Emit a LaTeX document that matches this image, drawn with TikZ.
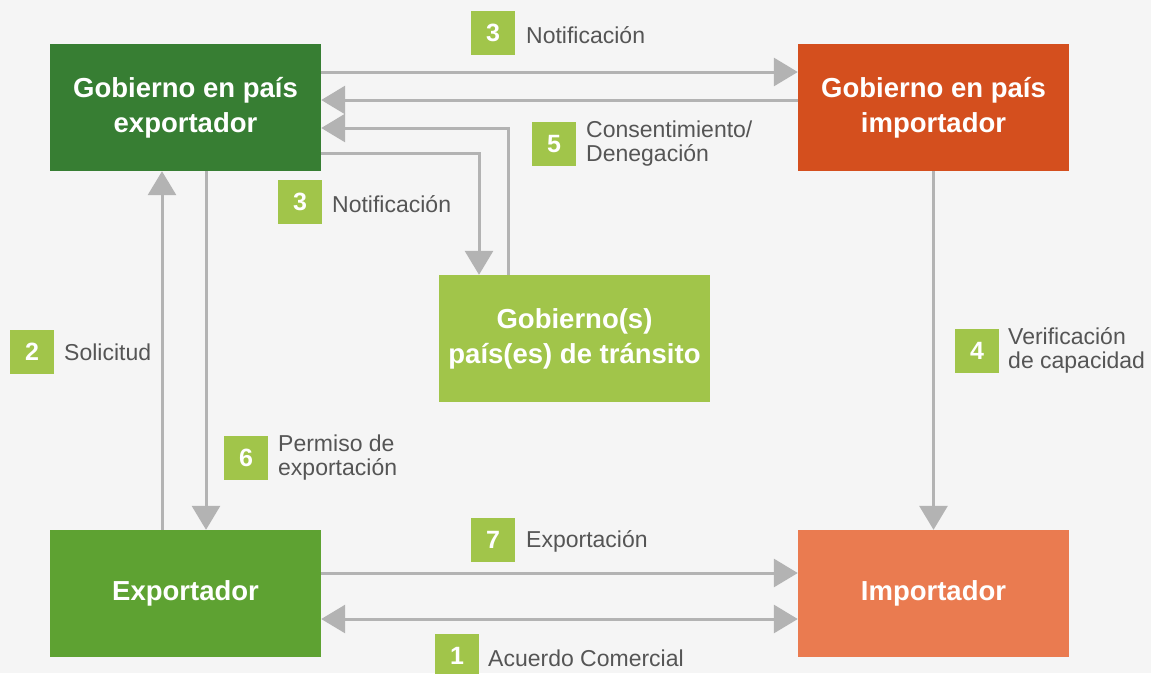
\documentclass[tikz,border=0pt]{standalone}
\usepackage{fontspec}
\setmainfont{Liberation Sans}
\usetikzlibrary{arrows.meta}
\definecolor{bg}{HTML}{F5F5F5}
\definecolor{darkgreen}{HTML}{377E33}
\definecolor{midgreen}{HTML}{5EA232}
\definecolor{lightgreen}{HTML}{A1C54A}
\definecolor{darkorange}{HTML}{D44F1E}
\definecolor{lightorange}{HTML}{EA7B50}
\definecolor{linegray}{HTML}{B3B3B3}
\definecolor{labelgray}{HTML}{555555}
\begin{document}
\begin{tikzpicture}[x=1pt,y=-1pt,
  box/.style={minimum width=271pt,minimum height=127pt,inner sep=0pt,text=white,
    align=center,font=\fontsize{27.5}{35}\selectfont\bfseries},
  badge/.style={fill=lightgreen,minimum size=44pt,inner sep=0pt,text=white,
    font=\fontsize{25}{25}\selectfont\bfseries},
  lbl/.style={anchor=west,inner sep=0pt,text=labelgray,align=left,
    font=\fontsize{23}{24}\selectfont},
  arr/.style={draw=linegray,line width=3pt,-{Triangle[length=24pt,width=28pt]}},
  biarr/.style={draw=linegray,line width=3pt,{Triangle[length=24pt,width=28pt]}-{Triangle[length=24pt,width=28pt]}}
]
\fill[bg] (0,0) rectangle (1151,673);
\useasboundingbox (0,0) rectangle (1151,673);

\node[box,fill=darkgreen] (GE) at (185.5,107.5) {Gobierno en país\\exportador};
\node[box,fill=darkorange] (GI) at (933.5,107.5) {Gobierno en país\\importador};
\node[box,fill=lightgreen] (TR) at (574.5,338.5) {Gobierno(s)\\país(es) de tránsito};
\node[box,fill=midgreen] (EX) at (185.5,593.5) {Exportador};
\node[box,fill=lightorange] (IM) at (933.5,593.5) {Importador};

% connectors
\draw[arr] (GE.east |- 0,72) -- (GI.west |- 0,72);
\draw[arr] (GI.west |- 0,100) -- (GE.east |- 0,100);
\draw[arr] (TR.north -| 508,0) |- (GE.east |- 0,128);
\draw[arr] (GE.east |- 0,153) -| (TR.north -| 479,0);
\draw[arr] (EX.north -| 162,0) -- (GE.south -| 162,0);
\draw[arr] (GE.south -| 206,0) -- (EX.north -| 206,0);
\draw[arr] (GI.south) -- (IM.north);
\draw[arr] (EX.east |- 0,573) -- (IM.west |- 0,573);
\draw[biarr] (EX.east |- 0,619) -- (IM.west |- 0,619);

% badges and labels
\node[badge] (b3a) at (493,33) {3};
\node[lbl] (l3a) at (526,35) {Notificación};
\node[badge] (b3b) at (300,201.5) {3};
\node[lbl] (l3b) at (332,204) {Notificación};
\node[badge] (b5) at (554,144) {5};
\node[lbl] (l5) at (586,144) {Consentimiento/\\Denegación};
\node[badge] (b2) at (32,351.5) {2};
\node[lbl] (l2) at (64,352) {Solicitud};
\node[badge] (b6) at (246,458) {6};
\node[lbl] (l6) at (278,458) {Permiso de\\exportación};
\node[badge] (b4) at (977,350.5) {4};
\node[lbl] (l4) at (1008,350) {Verificación\\de capacidad};
\node[badge] (b7) at (493,540) {7};
\node[lbl] (l7) at (526,541) {Exportación};
\node[badge] (b1) at (457,656) {1};
\node[lbl] (l1) at (488,658) {Acuerdo Comercial};
\end{tikzpicture}
\end{document}
